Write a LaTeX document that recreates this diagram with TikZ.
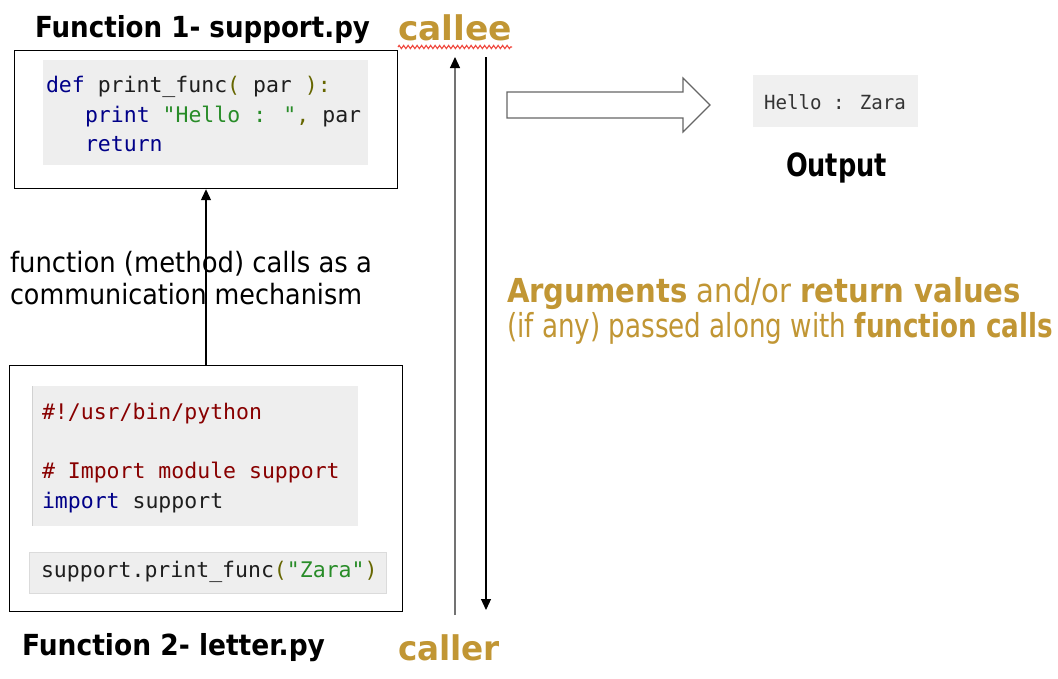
\documentclass[tikz,border=0pt]{standalone}
\usepackage{fontspec}
\usepackage{graphicx}
\setmainfont{DejaVu Sans}
\newfontfamily\codefont{DejaVu Sans Mono}
\usetikzlibrary{arrows.meta,decorations.pathmorphing}
\definecolor{gold}{RGB}{193,150,52}
\definecolor{kwblue}{RGB}{0,0,136}
\definecolor{strgreen}{RGB}{40,140,40}
\definecolor{cmtred}{RGB}{136,0,0}
\definecolor{punct}{RGB}{102,102,0}
\definecolor{ident}{RGB}{30,30,30}
\definecolor{codebg}{RGB}{238,238,238}
\definecolor{outbg}{RGB}{240,240,240}
\definecolor{wavered}{RGB}{240,70,60}
\newcommand{\fitw}[2]{\resizebox{#1}{\height}{#2}}
\newcommand{\kw}[1]{\textcolor{kwblue}{#1}}
\newcommand{\st}[1]{\textcolor{strgreen}{#1}}
\newcommand{\pu}[1]{\textcolor{punct}{#1}}
\newcommand{\cm}[1]{\textcolor{cmtred}{#1}}
\tikzset{
  txt/.style={anchor=base west, inner sep=0pt, outer sep=0pt},
  code/.style={txt, font=\codefont\fontsize{21.5}{26}\selectfont, text=ident},
  framebox/.style={draw=black, line width=1.2pt, anchor=north west, inner sep=0pt},
  bgbox/.style={fill=codebg, anchor=north west, inner sep=0pt},
  conn/.style={line width=1.2pt, -{Triangle[length=11pt,width=10pt,color=black,fill=black]}},
}
\begin{document}
\begin{tikzpicture}[x=1pt,y=-1pt]
\useasboundingbox (0,0) rectangle (1058,678);
\fill[white] (0,0) rectangle (1058,678);

% titles
\node[txt] (t1) at (35,37) {\fontsize{29}{32}\selectfont\fitw{335pt}{\textbf{Function 1- support.py}}};
\node[txt] (t2) at (22,655) {\fontsize{29}{32}\selectfont\fitw{303pt}{\textbf{Function 2- letter.py}}};

% box 1
\node[framebox, minimum width=383pt, minimum height=138pt] (b1) at (14,50) {};
\node[bgbox, minimum width=325pt, minimum height=105pt] (bg1) at (43,60) {};
\node[code] (c1a) at (46,92) {\kw{def} print\_func\pu{(} par \pu{):}};
\node[code] (c1b) at (85,122) {\kw{print} \st{"Hello : "}\pu{,} par};
\node[code] (c1c) at (85,151) {\kw{return}};

% box 2
\node[framebox, minimum width=393pt, minimum height=246pt] (b2) at (9,365) {};
\node[bgbox, minimum width=326pt, minimum height=140pt] (bg2) at (32,386) {};
\draw[draw=black!18, line width=1pt] (bg2.north west) -- (bg2.south west);
\node[bgbox, draw=black!14, line width=1pt, minimum width=357pt, minimum height=41pt] (bg3) at (29,552) {};
\node[code] (c2a) at (42,419) {\cm{\#!/usr/bin/python}};
\node[code] (c2b) at (42,478) {\cm{\# Import module support}};
\node[code] (c2c) at (42,508) {\kw{import} support};
\node[code] (c3) at (41,577) {support.print\_func\pu{(}\st{"Zara"}\pu{)}};

% connector between boxes
\draw[conn] (b2.north -| 206,0) -- (b1.south -| 206,0);

% side text
\node[txt] (m1) at (10,272) {\fontsize{28}{32}\selectfont\fitw{362pt}{function (method) calls as a}};
\node[txt] (m2) at (10,304) {\fontsize{28}{32}\selectfont\fitw{352pt}{communication mechanism}};

% callee / caller
\node[txt, text=gold] (callee) at (398,40) {\fontsize{34}{36}\selectfont\fitw{114pt}{\textbf{callee}}};
\node[txt, text=gold] (caller) at (398,660) {\fontsize{34}{36}\selectfont\fitw{102pt}{\textbf{caller}}};
\coordinate (w0) at (398,47);
\coordinate (w1) at (512,47);
\draw[wavered, line width=1.1pt, decorate, decoration={zigzag, amplitude=1.6pt, segment length=4.5pt}] (w0) -- (w1);

\coordinate (u0) at (455,615);
\coordinate (u1) at (455,57);
\coordinate (d0) at (486,57);
\coordinate (d1) at (486,610);
\draw[conn, draw=black!55] (u0) -- (u1);
\draw[conn] (d0) -- (d1);

% block arrow
\draw[draw=black!60, line width=1.2pt, fill=white] (507,92) -- (683,92) -- (683,78) -- (710,105) -- (683,132) -- (683,118) -- (507,118) -- cycle;

% output
\node[anchor=north west, fill=outbg, inner sep=0pt, minimum width=165pt, minimum height=52pt] (ob) at (753,75) {};
\node[txt, font=\codefont\fontsize{19.5}{24}\selectfont, text=black!80] (otext) at (764,109) {\fitw{142pt}{Hello : Zara}};
\node[txt] (out) at (786,176) {\fontsize{32}{36}\selectfont\fitw{101pt}{\textbf{Output}}};

% gold description
\node[txt, text=gold] (g1) at (507,302) {\fontsize{33}{36}\selectfont\fitw{514pt}{\textbf{Arguments} and/or \textbf{return values}}};
\node[txt, text=gold] (g2) at (507,337) {\fontsize{33}{36}\selectfont\fitw{546pt}{(if any) passed along with \textbf{function calls}}};
\end{tikzpicture}
\end{document}
